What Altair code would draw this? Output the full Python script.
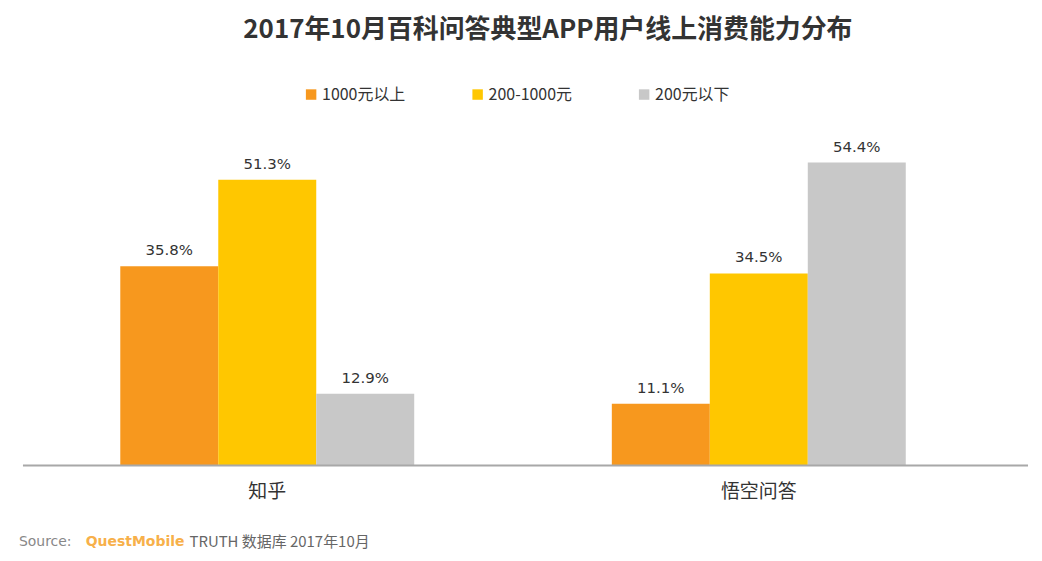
import altair as alt
import pandas as pd

apps = ["知乎", "悟空问答"]
series = ["1000元以上", "200-1000元", "200元以下"]
colors = ["#F7981E", "#FFC700", "#C8C8C8"]
zhihu = [35.8, 51.3, 12.9]
wukong = [11.1, 34.5, 54.4]

rows = []
for app, vals in zip(apps, [zhihu, wukong]):
    for s, v in zip(series, vals):
        rows.append({"app": app, "series": s, "value": v, "label": f"{v}%"})
df = pd.DataFrame(rows)

FONT = "Noto Sans CJK SC"

x = alt.X("app:N", sort=apps,
          scale=alt.Scale(paddingInner=0.402, paddingOuter=0.198),
          axis=alt.Axis(title=None, domain=False, ticks=False, labelAngle=0,
                        labelFontSize=19, labelColor="#333333", labelFont=FONT,
                        labelPadding=17))
xoff = alt.XOffset("series:N", sort=series, scale=alt.Scale(paddingInner=0, paddingOuter=0))
y = alt.Y("value:Q", scale=alt.Scale(domain=[0, 60], nice=False), axis=None)

base = alt.Chart(df).encode(x=x, xOffset=xoff, y=y)

bars = base.mark_bar().encode(
    color=alt.Color("series:N", sort=series,
                    scale=alt.Scale(domain=series, range=colors),
                    legend=alt.Legend(title=None, orient="none", direction="horizontal",
                                      legendX=281, legendY=-45,
                                      symbolType="square", symbolSize=110,
                                      symbolStrokeWidth=0,
                                      labelFontSize=16, labelColor="#333333", labelFont=FONT,
                                      columnPadding=64, labelOffset=3))
)

labels = base.mark_text(baseline="bottom", dy=-8, fontSize=15, color="#333333",
                        font="DejaVu Sans").encode(text="label:N")

baseline = alt.Chart(pd.DataFrame({"v": [0]})).mark_rule(color="#A8A8A8", strokeWidth=2).encode(
    x=alt.value(0), x2=alt.value(1008), y=alt.Y("v:Q", scale=alt.Scale(domain=[0, 60]))
)

src = alt.Chart(pd.DataFrame({"t": ["Source:"]})).mark_text(
    align="left", baseline="middle", fontSize=14, color="#888888", font="DejaVu Sans"
).encode(x=alt.value(-4), y=alt.value(412), text="t:N")
qm = alt.Chart(pd.DataFrame({"t": ["QuestMobile"]})).mark_text(
    align="left", baseline="middle", fontSize=14, fontWeight="bold", color="#F7B04A",
    font="DejaVu Sans"
).encode(x=alt.value(63), y=alt.value(412), text="t:N")
rest = alt.Chart(pd.DataFrame({"t": ["TRUTH 数据库 2017年10月"]})).mark_text(
    align="left", baseline="middle", fontSize=15, color="#666666", font=FONT
).encode(x=alt.value(167), y=alt.value(412), text="t:N")

chart = alt.layer(bars, labels, baseline, src, qm, rest).properties(
    width=983, height=335,
    title=alt.TitleParams("2017年10月百科问答典型APP用户线上消费能力分布",
                          fontSize=26, fontWeight="bold", color="#333333", font=FONT,
                          anchor="middle", dx=35, offset=44),
    padding={"left": 11, "top": 8, "right": 5, "bottom": 5},
).configure_view(stroke=None)

chart.save("out.html", embed_options={"renderer": "svg", "actions": False})
